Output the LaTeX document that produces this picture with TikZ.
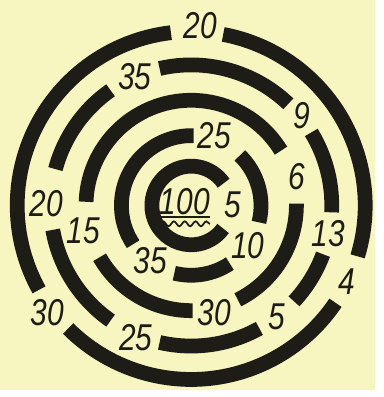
\documentclass[tikz,border=0pt]{standalone}
\usepackage{fontspec}
\setmainfont{Liberation Sans}
\usetikzlibrary{decorations.pathmorphing}
\definecolor{paper}{HTML}{F7F5C0}
\definecolor{ink}{HTML}{1E1C16}
\tikzset{
  every picture/.style={x=1pt, y=1pt},
  wall/.style={draw=ink, line width=15pt},
  num/.style={font=\fontsize{38}{38}\selectfont\itshape, text=ink, inner sep=0pt, xscale=0.8},
  ul/.style={draw=ink, line width=1.8pt},
}

\begin{document}
\begin{tikzpicture}
  \fill[paper] (-194.5,-188) rectangle (186.5,209);
  % ring pieces: radius / start / end
  \foreach \r/\a/\b in {177/96.7/209, 177/225/326, 177/-17/79.4,
      143/125/165, 143/190/235, 143/257/299, 143/-43/-20.3, 143/-2.8/31.3, 143/46.3/103,
      107/31.4/178, 107/209.5/270.8, 107/296.3/361,
      71/88/213.7, 71/256/303.6, 71/-14/45.8,
      40/34.4/324.2}
    \draw[wall] (\a:\r) arc[start angle=\a, end angle=\b, radius=\r pt];
  % numbers in the gaps
  \foreach \t/\x/\y [count=\k] in {20/9.5/183, 35/-57.5/131, 9/112.5/91, 25/23.5/71,
      6/107.5/29, 20/-147.5/2, 5/42.5/1, 15/-109.5/-26, 13/139.5/-29, 10/57.5/-41,
      35/-41.5/-56, 30/-146.5/-109, 30/23.5/-109, 5/87.5/-113, 4/158.5/-78, 25/-56.5/-134}
    \node[num] (gap\k) at (\x,\y) {\t};
  % centre
  \node[num] (goal) at (-6.5,4) {100};
  \draw[ul] ([yshift=-2pt]goal.south west) -- ([yshift=-2pt]goal.south east);
  \draw[ul, decorate, decoration={snake, amplitude=2.5pt, segment length=11pt}]
    ([yshift=-9pt]goal.south west) -- ([yshift=-9pt]goal.south east);
\end{tikzpicture}
\end{document}
